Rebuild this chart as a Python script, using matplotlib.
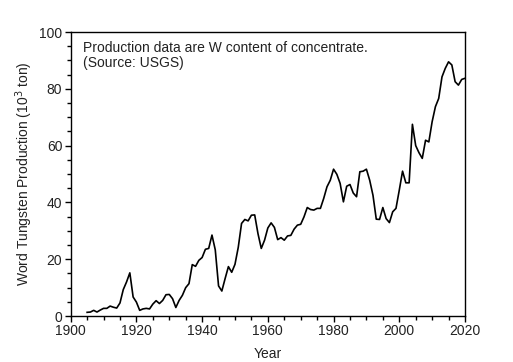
import matplotlib
matplotlib.use("Agg")
import matplotlib.pyplot as plt
from matplotlib.ticker import MultipleLocator

plt.rcParams['font.family'] = ['Liberation Sans', 'DejaVu Sans']

years = list(range(1905, 2021))
production = [
    1.3, 1.4, 2.0, 1.4, 2.1, 2.7, 2.7, 3.5, 3.1, 2.8,
    4.6, 9.3, 12.0, 15.2, 6.7, 4.9, 2.0, 2.5, 2.7, 2.5,
    4.2, 5.4, 4.4, 5.5, 7.5, 7.6, 6.1, 3.0, 5.5, 7.3,
    10.0, 11.4, 18.1, 17.5, 19.6, 20.6, 23.5, 23.8, 28.5, 23.3,
    10.6, 8.8, 13.2, 17.4, 15.4, 18.2, 24.2, 32.6, 34.0, 33.5,
    35.5, 35.6, 29.0, 23.8, 26.7, 31.0, 32.8, 31.2, 26.9, 27.6,
    26.7, 28.2, 28.4, 30.6, 32.0, 32.3, 34.9, 38.2, 37.5, 37.3,
    37.9, 37.9, 41.4, 45.5, 47.8, 51.7, 49.9, 46.7, 40.2, 45.7,
    46.3, 43.3, 42.0, 50.8, 51.0, 51.7, 47.8, 42.5, 34.1, 34.0,
    38.2, 34.3, 32.9, 36.7, 37.9, 44.3, 51.0, 46.9, 46.9, 67.5,
    60.0, 57.5, 55.5, 61.9, 61.3, 68.4, 73.7, 76.6, 84.2, 87.2,
    89.5, 88.4, 82.5, 81.3, 83.3, 83.7,
]

note = "Production data are W content of concentrate.\n(Source: USGS)"

fig = plt.figure(figsize=(5.13, 3.62), dpi=100)
ax = fig.add_axes([0.1378, 0.127, 0.7686, 0.7846])
ax.plot(years, production, color='black', lw=1.2)
ax.set_xlim(1900, 2020)
ax.set_ylim(0, 100)
ax.xaxis.set_major_locator(MultipleLocator(20))
ax.xaxis.set_minor_locator(MultipleLocator(5))
ax.yaxis.set_major_locator(MultipleLocator(20))
ax.yaxis.set_minor_locator(MultipleLocator(5))
ax.tick_params(which='both', direction='out', top=False, right=False,
               labelsize=10, width=1, colors='black', labelcolor='#222222')
ax.tick_params(which='major', length=4, pad=2)
ax.tick_params(which='minor', length=3)
for s in ax.spines.values():
    s.set_linewidth(1)
ax.set_xlabel("Year", fontsize=10, labelpad=6, color='#222222')
ax.set_ylabel("Word Tungsten Production (10$^3$ ton)", fontsize=10,
              labelpad=3, color='#222222')
ax.text(0.032, 0.968, note, transform=ax.transAxes, fontsize=10,
        va='top', ha='left', linespacing=1.1, color='#222222')

fig.savefig("out.png", dpi=100)
